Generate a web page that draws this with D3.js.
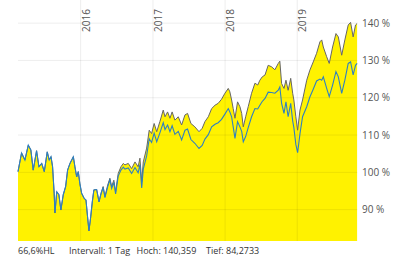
<!DOCTYPE html>
<html>
<head>
<meta charset="utf-8">
<script src="https://cdnjs.cloudflare.com/ajax/libs/d3/7.8.5/d3.min.js"></script>
<style>
  body { margin: 0; background: #fff; }
  svg { display: block; font-family: "Open Sans", sans-serif; }
</style>
</head>
<body>
<div id="chart"></div>
<script>
var dates = ["2015-02-18","2015-03-08","2015-03-25","2015-04-11","2015-04-24","2015-05-06","2015-05-23","2015-06-04",
  "2015-06-18","2015-07-01","2015-07-16","2015-07-26","2015-08-04","2015-08-12","2015-08-20","2015-08-24",
  "2015-09-02","2015-09-13","2015-09-23","2015-10-05","2015-10-17","2015-10-27","2015-11-08","2015-11-25",
  "2015-12-03","2015-12-12","2015-12-20","2015-12-28","2016-01-06","2016-01-19","2016-01-28","2016-02-05",
  "2016-02-12","2016-02-21","2016-02-29","2016-03-08","2016-03-22","2016-04-03","2016-04-13","2016-04-24",
  "2016-05-03","2016-05-17","2016-05-28","2016-06-06","2016-06-17","2016-06-26","2016-07-09","2016-07-23",
  "2016-08-04","2016-08-12","2016-08-29","2016-09-15","2016-10-02","2016-10-18","2016-10-27","2016-11-05",
  "2016-11-13","2016-11-30","2016-12-13","2016-12-25","2017-01-07","2017-01-20","2017-02-05","2017-02-22",
  "2017-03-03","2017-03-16","2017-03-28","2017-04-08","2017-04-22","2017-05-09","2017-05-26","2017-06-12",
  "2017-06-25","2017-07-12","2017-08-01","2017-08-22","2017-09-07","2017-09-21","2017-10-08","2017-10-25",
  "2017-11-11","2017-11-27","2017-12-14","2017-12-31","2018-01-17","2018-01-25","2018-02-03","2018-02-11",
  "2018-02-20","2018-03-05","2018-03-17","2018-03-26","2018-04-03","2018-04-15","2018-04-28","2018-05-15",
  "2018-06-01","2018-06-15","2018-06-26","2018-07-08","2018-07-22","2018-08-07","2018-08-24","2018-09-10",
  "2018-09-27","2018-10-05","2018-10-14","2018-10-26","2018-11-05","2018-11-16","2018-11-29","2018-12-09",
  "2018-12-15","2018-12-25","2019-01-03","2019-01-15","2019-01-28","2019-02-18","2019-03-06","2019-03-23",
  "2019-04-09","2019-04-26","2019-05-05","2019-05-13","2019-05-30","2019-06-12","2019-06-29","2019-07-16",
  "2019-07-28","2019-08-14","2019-08-30","2019-09-16","2019-09-28","2019-10-11","2019-10-23","2019-10-31"];

var greySeries = [100.2,105.2,103.3,107.3,106.0,100.6,105.8,101.5,
  102.4,100.2,105.5,103.3,104.2,101.5,94.4,89.1,
  94.8,94.0,89.9,94.0,96.2,100.6,102.4,104.2,
  101.5,98.8,100.2,97.0,94.4,93.0,92.6,88.1,
  84.3,88.1,92.1,95.3,95.4,92.1,94.4,96.2,
  93.5,96.6,98.4,96.2,97.9,94.8,99.7,101.5,
  102.4,102.0,102.4,101.0,102.8,101.5,103.8,97.5,
  102.8,106.5,111.3,110.4,113.1,110.9,113.6,116.7,
  114.9,116.2,114.5,116.2,114.0,114.9,112.7,115.4,
  115.8,113.1,112.2,110.9,111.8,113.6,114.9,117.1,
  118.0,118.5,119.6,121.2,122.5,121.6,119.4,117.1,
  114.5,118.9,117.6,115.8,112.2,114.9,117.6,121.2,
  123.9,123.4,124.7,125.6,126.1,128.7,128.3,127.5,
  129.2,129.8,123.8,122.5,124.7,122.0,125.2,121.2,
  119.4,114.9,111.3,116.7,119.4,124.7,127.4,129.6,
  131.9,135.0,135.5,133.6,131.0,129.2,133.6,137.2,
  136.3,131.4,135.5,139.5,140.2,136.3,139.5,139.9];

var blueSeries = [100.2,105.2,103.3,107.3,106.0,100.6,105.8,101.5,
  102.4,100.2,105.5,103.3,104.2,101.5,94.4,89.1,
  94.8,94.0,89.9,94.0,96.2,100.6,102.4,104.2,
  101.5,98.8,100.2,97.0,94.4,93.0,92.6,88.1,
  84.3,88.1,92.1,95.3,95.4,92.1,94.2,96.0,
  93.2,96.2,98.0,95.7,97.3,94.2,99.0,100.6,
  101.4,100.9,101.2,99.7,101.3,99.9,102.1,95.8,
  100.9,104.4,109.0,108.0,110.5,108.2,110.6,113.3,
  111.5,112.7,110.9,112.5,110.2,111.0,108.7,111.3,
  111.6,108.8,107.8,106.4,107.2,108.9,110.1,112.2,
  112.9,113.3,114.2,115.6,117.1,116.2,114.9,112.2,
  109.1,113.6,112.2,111.0,108.2,109.6,112.0,114.9,
  117.1,117.0,118.0,119.0,119.8,121.5,121.4,121.2,
  122.0,122.9,118.5,115.8,118.9,114.9,118.5,113.8,
  112.0,107.5,105.3,110.4,114.9,117.6,120.2,122.3,
  124.5,125.0,124.7,125.6,122.5,120.3,123.4,127.0,
  125.6,121.2,124.7,129.2,129.6,126.1,128.7,129.2];

var yTicks = [90, 100, 110, 120, 130, 140];
var footerLabels = ["66,6%HL", "Intervall: 1 Tag", "Hoch: 140,359", "Tief: 84,2733"];
var footerX = [18, 69, 136.5, 206];

var w = 400, h = 257;
var parse = d3.timeParse("%Y-%m-%d");
var data = dates.map(function (d, i) {
    return { date: parse(d), grey: greySeries[i], blue: blueSeries[i] };
});

var svg = d3.select("#chart").append("svg")
    .attr("width", w)
    .attr("height", h);

var x = d3.scaleTime()
    .domain([parse("2015-02-18"), parse("2019-11-01")])
    .range([18, 357.3]);

var y = d3.scaleLinear()
    .domain([81.6, 146.2])
    .range([241, 0]);

// yellow fill below upper line
var area = d3.area()
    .x(function (d) { return x(d.date); })
    .y0(y(81.6))
    .y1(function (d) { return y(d.grey); });

svg.append("path")
    .datum(data)
    .attr("d", area)
    .attr("fill", "#fff200");

// grid lines
svg.append("g")
    .selectAll("line")
    .data(yTicks)
    .enter()
    .append("line")
    .attr("x1", 18)
    .attr("x2", 357.3)
    .attr("y1", function (d) { return y(d); })
    .attr("y2", function (d) { return y(d); })
    .attr("stroke", "rgba(0,0,0,0.07)")
    .attr("stroke-width", 1);

var years = x.ticks(d3.timeYear.every(1));
svg.append("g")
    .selectAll("line")
    .data(years)
    .enter()
    .append("line")
    .attr("x1", function (d) { return x(d); })
    .attr("x2", function (d) { return x(d); })
    .attr("y1", 0)
    .attr("y2", 241)
    .attr("stroke", "rgba(0,0,0,0.07)")
    .attr("stroke-width", 1);

var line = function (key) {
    return d3.line()
        .x(function (d) { return x(d.date); })
        .y(function (d) { return y(d[key]); });
};

svg.append("path")
    .datum(data)
    .attr("d", line("grey"))
    .attr("fill", "none")
    .attr("stroke", "#666")
    .attr("stroke-width", 1);

svg.append("path")
    .datum(data)
    .attr("d", line("blue"))
    .attr("fill", "none")
    .attr("stroke", "#2f80c0")
    .attr("stroke-width", 1.1);

// year labels
svg.append("g")
    .selectAll("text")
    .data(years)
    .enter()
    .append("text")
    .attr("transform", function (d) {
        return "translate(" + (x(d) + 9) + ",32) rotate(-90)";
    })
    .attr("font-size", "10px")
    .attr("fill", "#555")
    .text(d3.timeFormat("%Y"));

// right axis labels
svg.append("g")
    .selectAll("text")
    .data(yTicks)
    .enter()
    .append("text")
    .attr("x", 362)
    .attr("y", function (d) { return y(d) + 3.5; })
    .attr("font-size", "10px")
    .attr("fill", "#555")
    .text(function (d) { return d + " %"; });

// footer
svg.append("g")
    .selectAll("text")
    .data(footerLabels)
    .enter()
    .append("text")
    .attr("x", function (d, i) { return footerX[i]; })
    .attr("y", 253.5)
    .attr("font-size", "9px")
    .attr("fill", "#333")
    .text(function (d) { return d; });
</script>
</body>
</html>
